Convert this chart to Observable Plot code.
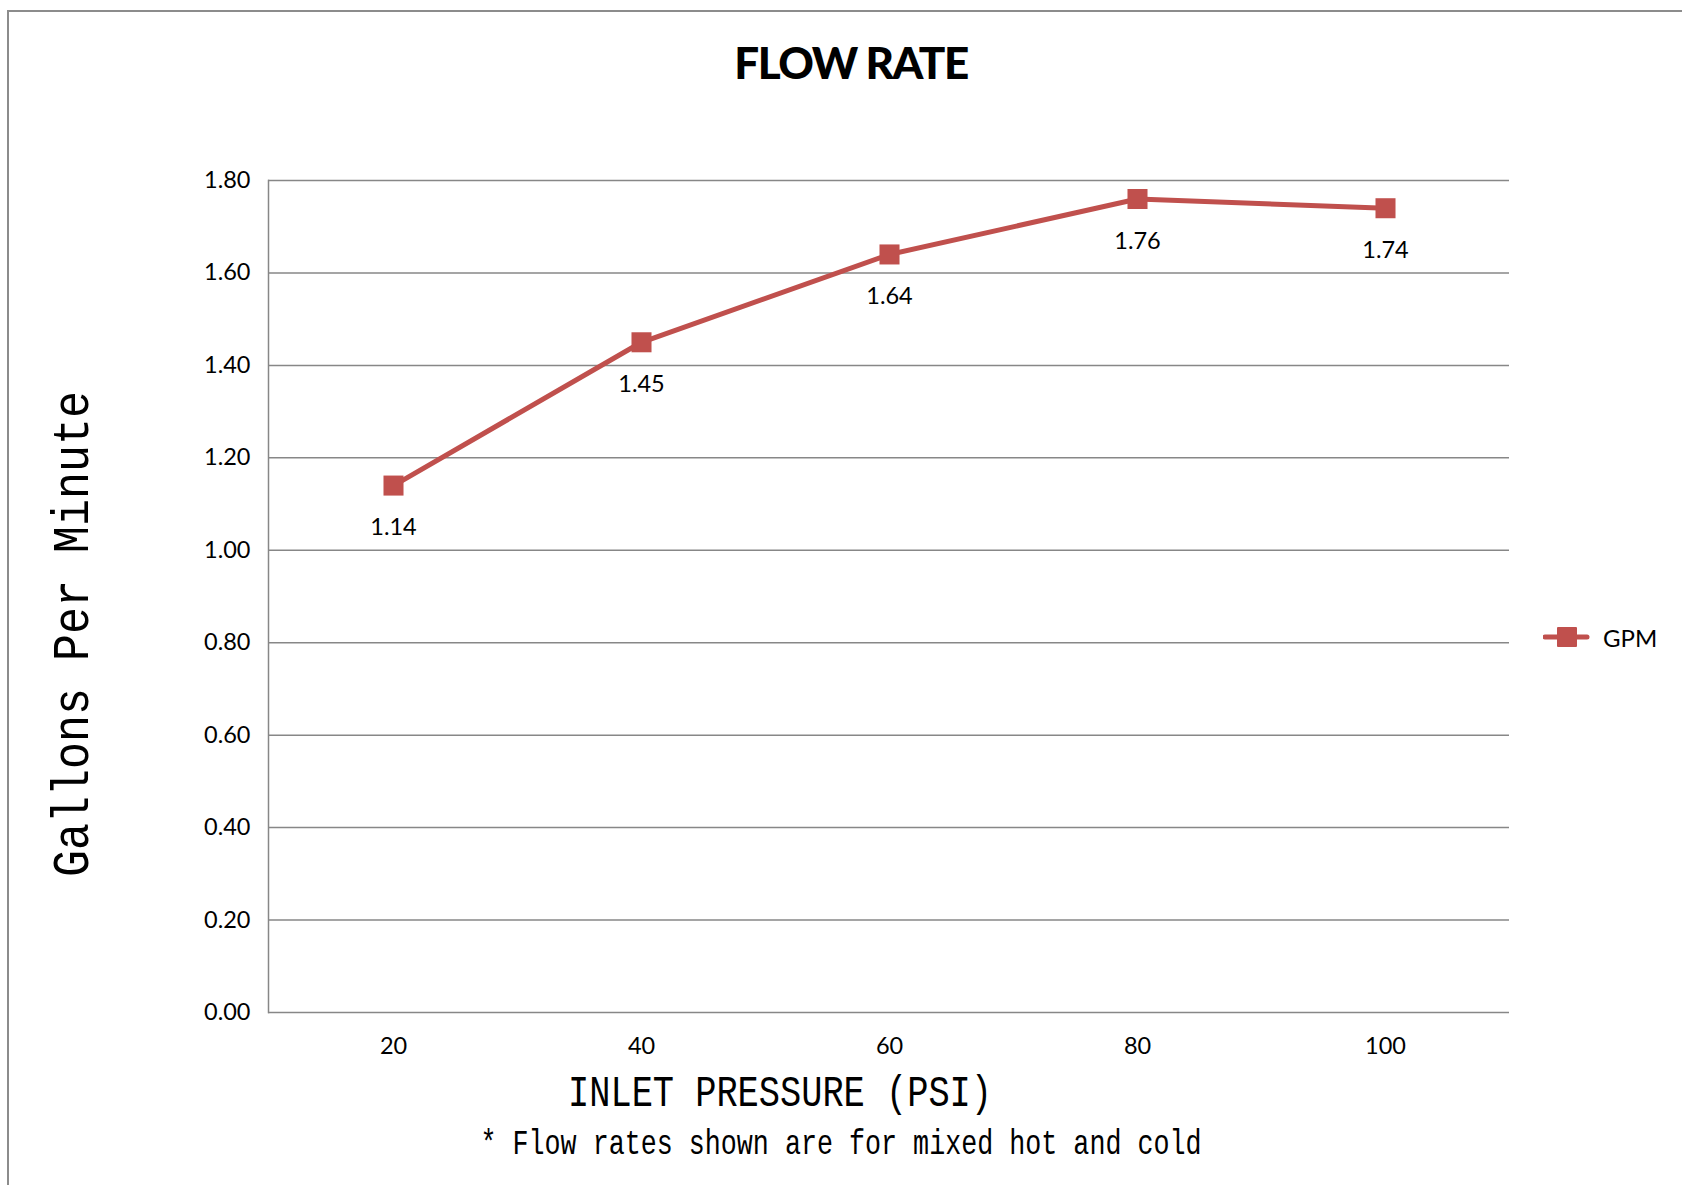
<!DOCTYPE html>
<html>
<head>
<meta charset="utf-8">
<script src="https://cdn.jsdelivr.net/npm/d3@7"></script>
<script src="https://cdn.jsdelivr.net/npm/@observablehq/plot@0.6"></script>
<style>
  html, body { margin: 0; padding: 0; background: #fff; }
  #page { position: relative; width: 1682px; height: 1185px; overflow: hidden; background: #fff; }
  #border { position: absolute; left: 7px; top: 10px; right: -10px; bottom: -10px; border-top: 2px solid #8c8c8c; border-left: 2px solid #8c8c8c; }
  #title { position: absolute; left: 0; width: 1702px; top: 36px; text-align: center; font-family: Lato, sans-serif; font-weight: 900; font-size: 44px; letter-spacing: -1.5px; color: #000; margin: 0; }
  #chart { position: absolute; left: 0; top: 100px; }
  #legend { position: absolute; left: 1543px; top: 620px; display: flex; align-items: center; font-family: Lato, sans-serif; font-size: 24px; color: #000; }
  #overlay { position: absolute; left: 0; top: 0; pointer-events: none; }
</style>
</head>
<body>
<div id="page">
  <div id="border"></div>
  <h1 id="title">FLOW RATE</h1>
  <div id="chart"></div>
  <div id="legend"><svg width="48" height="34"><line x1="2" x2="44" y1="17" y2="17" stroke="#C0504D" stroke-width="5" stroke-linecap="round"></line><rect x="14" y="7" width="20" height="20" fill="#C0504D" rx="1"></rect></svg><span id="legendText" style="margin-left:12px"></span></div>
  <svg id="overlay" width="1682" height="1185"></svg>
</div>
<script>
const pressures = ["20", "40", "60", "80", "100"];
const gpm = [1.14, 1.45, 1.64, 1.76, 1.74];
const yTicks = [0, 0.2, 0.4, 0.6, 0.8, 1.0, 1.2, 1.4, 1.6, 1.8];
const seriesName = "GPM";
const xLabel = "INLET PRESSURE (PSI)";
const yLabel = "Gallons Per Minute";
const footnote = "* Flow rates shown are for mixed hot and cold";

const data = pressures.map((p, i) => ({pressure: p, value: gpm[i], series: seriesName}));
const red = "#C0504D";
document.getElementById("legendText").textContent = seriesName;

const plot = Plot.plot({
  width: 1682,
  height: 1085,
  marginTop: 80,
  marginBottom: 173,
  marginLeft: 268,
  marginRight: 173,
  style: {fontFamily: "Lato, sans-serif", fontSize: "23px", color: "#000", background: "transparent", overflow: "visible"},
  x: {type: "point", domain: pressures, padding: 0.5, label: null},
  y: {domain: [0, 1.8], label: null},
  marks: [
    Plot.gridY(yTicks, {stroke: "#878787", strokeOpacity: 1, strokeWidth: 1.5}),
    Plot.frame({anchor: "left", stroke: "#878787", strokeWidth: 1.5}),
    Plot.axisY(yTicks, {tickSize: 0, tickPadding: 18, tickFormat: d3.format(".2f"), fontSize: 23.5, label: null}),
    Plot.axisX({tickSize: 0, tickPadding: 25, fontSize: 23.5, label: null}),
    Plot.line(data, {x: "pressure", y: "value", stroke: red, strokeWidth: 5}),
    Plot.dot(data, {x: "pressure", y: "value", symbol: "square", r: 11.3, fill: red}),
    Plot.text(data, {x: "pressure", y: "value", text: d => d3.format(".2f")(d.value), dy: 42, fontSize: 23.5, fill: "#000"})
  ]
});
document.getElementById("chart").appendChild(plot);

const ov = d3.select("#overlay");
ov.append("text")
  .attr("transform", "translate(75,634) rotate(-90) scale(0.865,1)")
  .attr("text-anchor", "middle").attr("dominant-baseline", "central")
  .attr("font-family", "Liberation Mono").attr("font-size", 52).attr("fill", "#000")
  .text(yLabel);
ov.append("text")
  .attr("transform", "translate(780,1094) scale(0.803,1)")
  .attr("text-anchor", "middle").attr("dominant-baseline", "central")
  .attr("font-family", "Liberation Mono").attr("font-size", 44).attr("fill", "#000")
  .text(xLabel);
ov.append("text")
  .attr("transform", "translate(841,1145) scale(0.742,1)")
  .attr("text-anchor", "middle").attr("dominant-baseline", "central")
  .attr("font-family", "Liberation Mono").attr("font-size", 36).attr("fill", "#000")
  .text(footnote);
</script>
</body>
</html>
